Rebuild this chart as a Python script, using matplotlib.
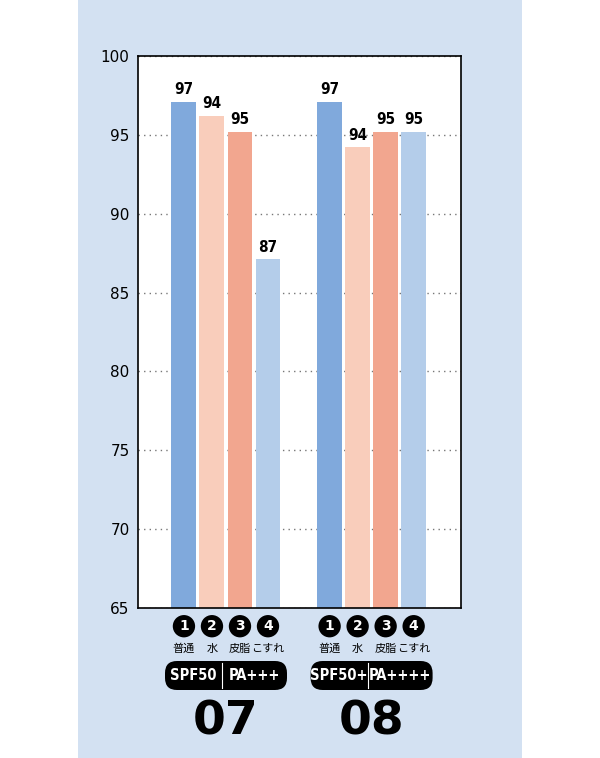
import matplotlib.pyplot as plt
from matplotlib.patches import Rectangle, FancyBboxPatch

groups = ["07", "08"]
spf = [("SPF50", "PA+++"), ("SPF50+", "PA++++")]
conditions = ["普通", "水", "皮脂", "こすれ"]
heights = [[97.1, 96.2, 95.2, 87.1], [97.1, 94.2, 95.2, 95.2]]
labels = [["97", "94", "95", "87"], ["97", "94", "95", "95"]]
colors = ["#80a9dc", "#f9cdbb", "#f2a68f", "#b4cdea"]

jp = ["Noto Sans CJK JP", "DejaVu Sans"]

W, H = 600, 758
fig = plt.figure(figsize=(6, 7.58), dpi=100)
fig.patch.set_facecolor("white")
fig.add_artist(Rectangle((78 / W, 0), 444 / W, 1, transform=fig.transFigure,
                         facecolor="#d3e1f2", edgecolor="none", zorder=0))

ax = fig.add_axes([138 / W, 1 - 608 / H, 323 / W, 552 / H])
ax.set_facecolor("white")
ax.set_ylim(65, 100)
ax.set_xlim(-1.64, 9.89)
ax.set_yticks(range(65, 101, 5))
ax.tick_params(axis="y", length=0, labelsize=11, pad=6)
ax.set_xticks([])
ax.grid(axis="y", linestyle=(0, (1, 3)), color="#777777", linewidth=1)
ax.set_axisbelow(True)
for s in ax.spines.values():
    s.set_linewidth(1.2)

offsets = [0, 5.2]
tr = ax.get_xaxis_transform()
for g, off in enumerate(offsets):
    xs = [off + i for i in range(4)]
    ax.bar(xs, [h - 65 for h in heights[g]], bottom=65, width=0.89, color=colors, zorder=2)
    for i, x in enumerate(xs):
        ax.text(x, heights[g][i] + 0.3, labels[g][i], ha="center", va="bottom",
                fontsize=11, fontweight="bold", fontstretch="condensed")
        ax.text(x, -0.033, str(i + 1), transform=tr, ha="center", va="center", color="white",
                fontsize=10, fontweight="bold", clip_on=False,
                bbox=dict(boxstyle="circle,pad=0.3", fc="black", ec="none"))
        ax.text(x, -0.074, conditions[i], transform=tr, ha="center", va="center",
                fontsize=8, family=jp, clip_on=False)
    cx = off + 1.5
    px = 184 + cx * 28
    left, right = px - 61, px + 61
    fig.add_artist(FancyBboxPatch((left / W, 1 - 690 / H), (right - left) / W, 29 / H,
                                  boxstyle="round,pad=0,rounding_size=0.02",
                                  transform=fig.transFigure, fc="black", ec="none",
                                  mutation_aspect=W / H))
    div = left + 57
    fig.add_artist(plt.Line2D([div / W, div / W], [1 - 688 / H, 1 - 663 / H],
                              transform=fig.transFigure, color="white", lw=0.8))
    fig.text((left + div) / 2 / W, 1 - 676 / H, spf[g][0], ha="center", va="center",
             color="white", fontsize=10.5, fontweight="bold", fontstretch="condensed")
    fig.text((div + right) / 2 / W, 1 - 676 / H, spf[g][1], ha="center", va="center",
             color="white", fontsize=10.5, fontweight="bold", fontstretch="condensed")
    fig.text(px / W, 1 - 722 / H, groups[g], ha="center", va="center",
             fontsize=34, fontweight="bold")

fig.savefig("out.png", dpi=100)
